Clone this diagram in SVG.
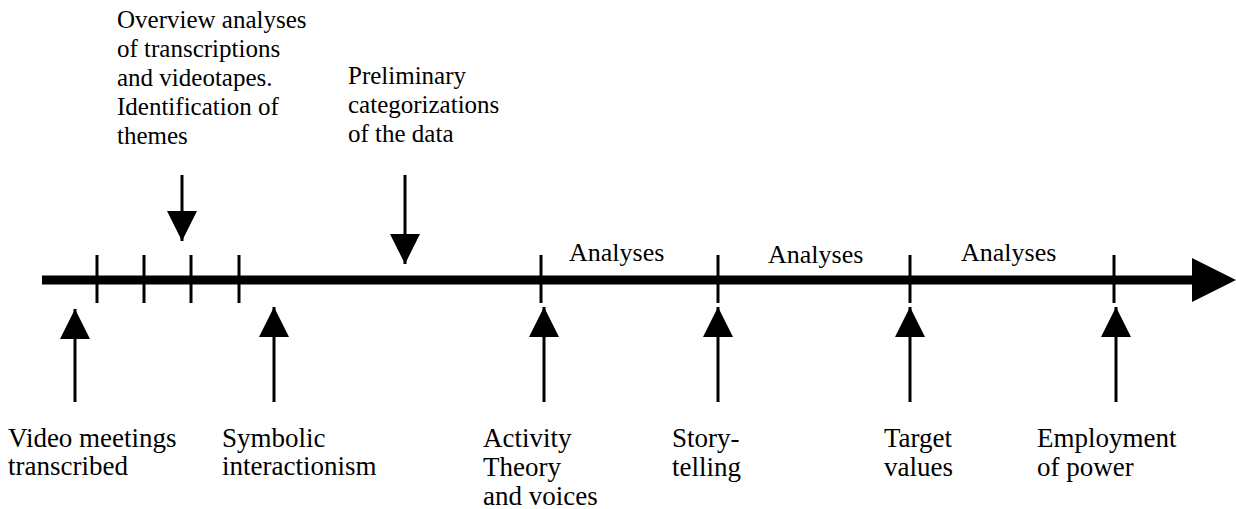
<svg xmlns="http://www.w3.org/2000/svg" width="1236" height="509" viewBox="0 0 1236 509">
<defs>
<style>
.tick{stroke:#000;stroke-width:3}
.shaft{stroke:#000;stroke-width:3}
.top{font-size:25px}
.bot{font-size:27px}
.mid{font-size:26px}
</style>
<marker id="ah" viewBox="0 0 30 34" refX="30" refY="15" markerWidth="30" markerHeight="34" markerUnits="userSpaceOnUse" orient="auto">
<path d="M0,0 L30,15 L0,30 Z" fill="#000"/>
</marker>
</defs>
<g id="timeline">
<line x1="42" y1="280" x2="1198" y2="280" stroke="#000" stroke-width="9"/>
<path d="M1192,258 L1236,280 L1192,302 Z" fill="#000"/>
<line class="tick" x1="97" y1="255" x2="97" y2="303"/>
<line class="tick" x1="144" y1="255" x2="144" y2="303"/>
<line class="tick" x1="191" y1="255" x2="191" y2="303"/>
<line class="tick" x1="239" y1="255" x2="239" y2="303"/>
<line class="tick" x1="541" y1="255" x2="541" y2="303"/>
<line class="tick" x1="718" y1="255" x2="718" y2="303"/>
<line class="tick" x1="910" y1="255" x2="910" y2="303"/>
<line class="tick" x1="1114" y1="255" x2="1114" y2="303"/>
</g>
<g id="connectors">
<line class="shaft" x1="182" y1="175" x2="182" y2="241" marker-end="url(#ah)"/>
<line class="shaft" x1="405" y1="175" x2="405" y2="264" marker-end="url(#ah)"/>
<line class="shaft" x1="75" y1="402" x2="75" y2="309" marker-end="url(#ah)"/>
<line class="shaft" x1="274" y1="402" x2="274" y2="307" marker-end="url(#ah)"/>
<line class="shaft" x1="544" y1="402" x2="544" y2="307" marker-end="url(#ah)"/>
<line class="shaft" x1="718" y1="402" x2="718" y2="307" marker-end="url(#ah)"/>
<line class="shaft" x1="910" y1="402" x2="910" y2="307" marker-end="url(#ah)"/>
<line class="shaft" x1="1116" y1="402" x2="1116" y2="307" marker-end="url(#ah)"/>
</g>
<g font-family="'Liberation Serif', 'Times New Roman', serif" fill="#000">
<g id="analyses" class="mid">
<text x="569" y="261">Analyses</text>
<text x="768" y="263">Analyses</text>
<text x="961" y="261">Analyses</text>
</g>
<g id="overview" class="top">
<text x="117" y="28">Overview analyses</text>
<text x="117" y="57">of transcriptions</text>
<text x="117" y="86">and videotapes.</text>
<text x="117" y="115">Identification of</text>
<text x="117" y="144">themes</text>
</g>
<g id="preliminary" class="top">
<text x="348" y="84">Preliminary</text>
<text x="348" y="113">categorizations</text>
<text x="348" y="142">of the data</text>
</g>
<g id="video" class="bot">
<text x="8" y="447">Video meetings</text>
<text x="8" y="475">transcribed</text>
</g>
<g id="symbolic" class="bot">
<text x="222" y="447">Symbolic</text>
<text x="222" y="475">interactionism</text>
</g>
<g id="activity" class="bot">
<text x="483" y="447">Activity</text>
<text x="483" y="476">Theory</text>
<text x="483" y="505">and voices</text>
</g>
<g id="story" class="bot">
<text x="672" y="447">Story-</text>
<text x="672" y="476">telling</text>
</g>
<g id="target" class="bot">
<text x="884" y="447">Target</text>
<text x="884" y="476">values</text>
</g>
<g id="employment" class="bot">
<text x="1037" y="447">Employment</text>
<text x="1037" y="476">of power</text>
</g>
</g>
</svg>
